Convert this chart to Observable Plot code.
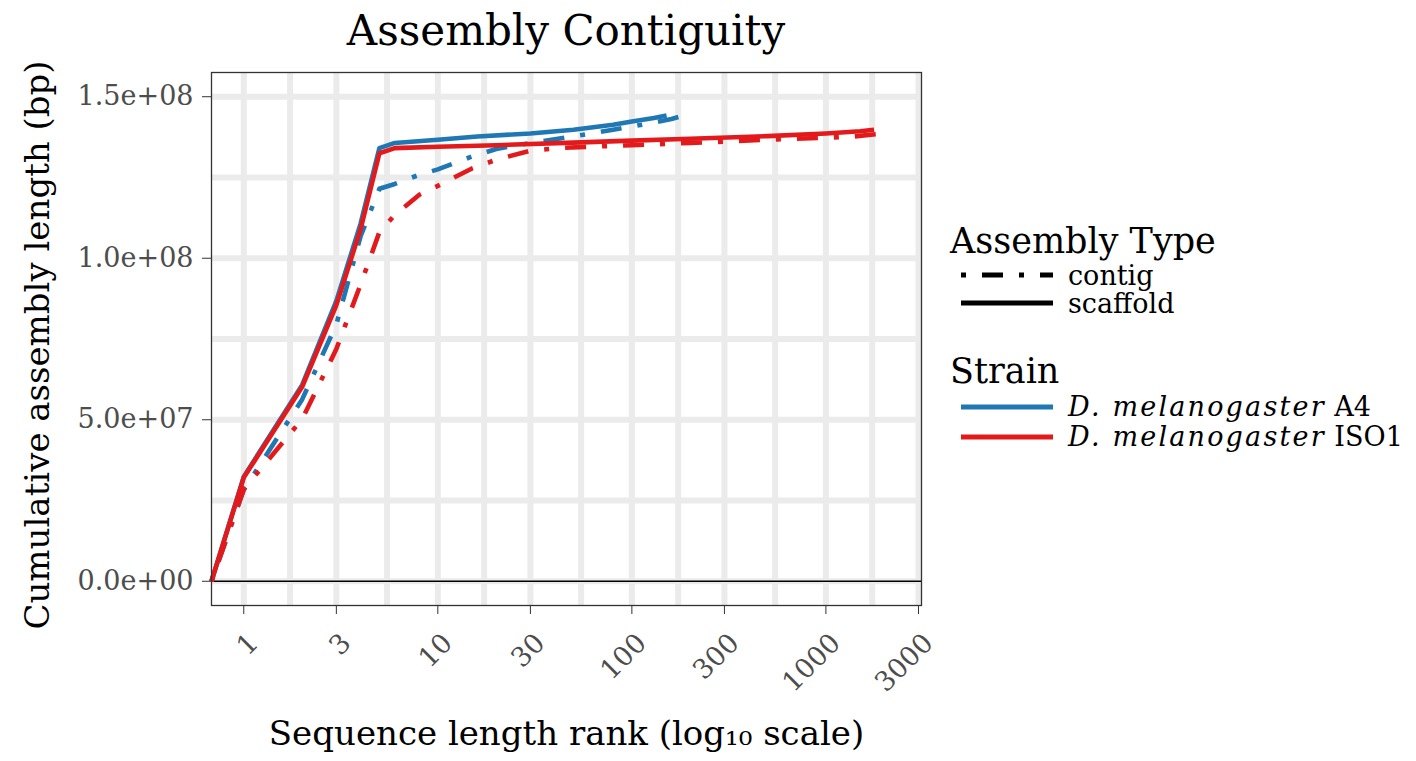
<!DOCTYPE html>
<html><head><meta charset="utf-8">
<script src="https://cdn.jsdelivr.net/npm/d3@7"></script>
<script src="https://cdn.jsdelivr.net/npm/@observablehq/plot@0.6"></script>
<style>
body{margin:0;background:#fff;}
#wrap{position:relative;width:1416px;height:761px;font-family:"DejaVu Serif",serif;overflow:hidden;background:#fff;}
#title{position:absolute;left:211px;width:710px;top:0;height:62px;line-height:62px;text-align:center;font-size:42px;color:#000;white-space:nowrap;z-index:2;}
#chart{position:absolute;left:0;top:40px;z-index:1;}
#legend{position:absolute;left:940px;top:200px;z-index:1;}
#chart g[aria-label="y-axis tick label"] text{fill:#4D4D4D;}
</style></head><body>
<div id="wrap"><div id="chart"></div><div id="title">Assembly Contiguity</div><svg id="legend"></svg></div>
<script>
// ---- data ----
const strains = ["D. melanogaster A4", "D. melanogaster ISO1"];
const strainColors = ["#1F78B4", "#E31A1C"];
const assemblyTypes = ["contig", "scaffold"];

const a4ContigRank = [0, 1, 2, 3, 4, 5, 6, 8, 10, 15, 20, 30, 45, 60, 80, 100, 125, 160, 190];
const a4ContigLen  = [0, 2.83e7, 5.63e7, 7.95e7, 1.068e8, 1.215e8, 1.230e8, 1.258e8, 1.275e8, 1.315e8, 1.338e8, 1.357e8, 1.373e8, 1.385e8, 1.398e8, 1.408e8, 1.418e8, 1.431e8, 1.444e8];

const a4ScaffoldRank = [0, 1, 2, 3, 4, 5, 6, 10, 16, 30, 50, 80, 100, 130, 151];
const a4ScaffoldLen  = [0, 3.24e7, 6.08e7, 8.68e7, 1.107e8, 1.341e8, 1.357e8, 1.367e8, 1.377e8, 1.386e8, 1.398e8, 1.413e8, 1.423e8, 1.434e8, 1.442e8];

const iso1ContigRank = [0, 1, 2, 3, 4, 5, 6, 8, 10, 15, 20, 30, 45, 60, 100, 150, 200, 300, 500, 700, 1000, 1400, 1800, 2120];
const iso1ContigLen  = [0, 2.85e7, 5.02e7, 7.19e7, 9.19e7, 1.081e8, 1.134e8, 1.196e8, 1.224e8, 1.278e8, 1.305e8, 1.333e8, 1.342e8, 1.345e8, 1.350e8, 1.354e8, 1.357e8, 1.361e8, 1.367e8, 1.370e8, 1.373e8, 1.377e8, 1.384e8, 1.388e8];

const iso1ScaffoldRank = [0, 1, 2, 3, 4, 5, 6, 10, 20, 50, 100, 200, 500, 1000, 1500, 1770];
const iso1ScaffoldLen  = [0, 3.21e7, 6.02e7, 8.55e7, 1.09e8, 1.325e8, 1.341e8, 1.345e8, 1.350e8, 1.358e8, 1.364e8, 1.370e8, 1.378e8, 1.386e8, 1.393e8, 1.398e8];

const xTicks = [1, 3, 10, 30, 100, 300, 1000, 3000];
const xTickLabels = ["1", "3", "10", "30", "100", "300", "1000", "3000"];
const yTicks = [0, 5e7, 1e8, 1.5e8];
const yTickLabels = ["0.0e+00", "5.0e+07", "1.0e+08", "1.5e+08"];
const yLimits = [0, 1.5e8];

// ---- build tables ----
function rows(strain, type, ranks, lens) {
  return ranks.map((r, i) => ({strain, type, rank: r, length: lens[i]}));
}
const a4Contig = rows(strains[0], assemblyTypes[0], a4ContigRank, a4ContigLen);
const a4Scaffold = rows(strains[0], assemblyTypes[1], a4ScaffoldRank, a4ScaffoldLen);
const iso1Contig = rows(strains[1], assemblyTypes[0], iso1ContigRank, iso1ContigLen);
const iso1Scaffold = rows(strains[1], assemblyTypes[1], iso1ScaffoldRank, iso1ScaffoldLen);
const all = [...a4Contig, ...a4Scaffold, ...iso1Contig, ...iso1Scaffold];

const xMinor = xTicks.slice(1).map((t, i) => Math.sqrt(t * xTicks[i]));
const yMinor = yTicks.slice(1).map((t, i) => (t + yTicks[i]) / 2);
const xTickRows = xTicks.map((t, i) => ({t, label: xTickLabels[i]}));

const lo = Math.log10(d3.min(all.filter(d => d.rank > 0), d => d.rank));
const hi = Math.log10(d3.max(all, d => d.rank));
const padX = 0.05 * (hi - lo);
const xDomain = [10 ** (lo - padX), 10 ** (hi + padX)];
const padY = 0.05 * (yLimits[1] - yLimits[0]);
const yDomain = [yLimits[0] - padY, yLimits[1] + padY];

const dash = "5,16,21,16";
const lw = 4.6;
const grid = {stroke: "#EBEBEB", strokeOpacity: 1, strokeWidth: 6};
const lineOpts = (t) => ({x: "rank", y: "length", stroke: "strain", strokeWidth: lw,
  strokeDasharray: t === "contig" ? dash : null, strokeLinecap: "butt", strokeLinejoin: "round"});

const plot = Plot.plot({
  width: 940, height: 721,
  marginTop: 32, marginBottom: 156, marginLeft: 211, marginRight: 19,
  style: {fontFamily: '"DejaVu Serif", serif', background: "transparent", color: "#000", overflow: "visible"},
  x: {type: "log", domain: xDomain, clamp: true},
  y: {domain: yDomain},
  color: {domain: strains, range: strainColors},
  marks: [
    Plot.gridX(xMinor, grid),
    Plot.gridX(xTicks, grid),
    Plot.gridY(yMinor, grid),
    Plot.gridY(yTicks, grid),
    Plot.ruleY([0], {stroke: "#000", strokeWidth: 1.4}),
    Plot.line(a4Contig, lineOpts("contig")),
    Plot.line(a4Scaffold, lineOpts("scaffold")),
    Plot.line(iso1Contig, lineOpts("contig")),
    Plot.line(iso1Scaffold, lineOpts("scaffold")),
    Plot.frame({stroke: "#333", strokeWidth: 1.3}),
    Plot.axisX(xTicks, {tickFormat: () => "", tickSize: 9, label: null, stroke: "#333"}),
    Plot.text(xTickRows, {x: "t", text: "label", frameAnchor: "bottom", dx: 10, dy: 33, rotate: -45,
      textAnchor: "end", lineAnchor: "middle", fontSize: 27, fill: "#4D4D4D"}),
    Plot.axisY(yTicks, {tickFormat: d => yTickLabels[yTicks.indexOf(d)], tickSize: 9, tickPadding: 9, fontSize: 27, label: null, stroke: "#333"}),
    Plot.text(["Sequence length rank (log\u2081\u2080 scale)"], {frameAnchor: "bottom", dy: 139, fontSize: 34, fill: "#000"}),
    Plot.text(["Cumulative assembly length (bp)"], {frameAnchor: "left", textAnchor: "middle", rotate: -90, dx: -173, dy: 6, fontSize: 34, fill: "#000"})
  ]
});
document.getElementById("chart").appendChild(plot);

// ---- legend ----
const leg = d3.select("#legend").attr("width", 476).attr("height", 260)
  .style("font-family", '"DejaVu Serif", serif');
leg.append("text").attr("x", 10).attr("y", 53).attr("font-size", 35).text("Assembly Type");
assemblyTypes.forEach((t, i) => {
  const y = 75 + i * 28;
  leg.append("line").attr("x1", 21).attr("x2", 113).attr("y1", y).attr("y2", y)
    .attr("stroke", "#000").attr("stroke-width", 5)
    .attr("stroke-dasharray", t === "contig" ? dash : null);
  leg.append("text").attr("x", 128).attr("y", y + 10).attr("font-size", 27).text(t);
});
leg.append("text").attr("x", 10).attr("y", 183).attr("font-size", 35).text("Strain");
strains.forEach((s, i) => {
  const y = 207 + i * 30;
  leg.append("line").attr("x1", 21).attr("x2", 113).attr("y1", y).attr("y2", y)
    .attr("stroke", strainColors[i]).attr("stroke-width", 5);
  const parts = s.split(" ");
  const tx = leg.append("text").attr("x", 128).attr("y", y + 9).attr("font-size", 27);
  tx.append("tspan").attr("font-style", "italic").attr("letter-spacing", 2.2).text(parts[0] + " " + parts[1]);
  tx.append("tspan").text(" " + parts[2]);
});
</script>
</body></html>
